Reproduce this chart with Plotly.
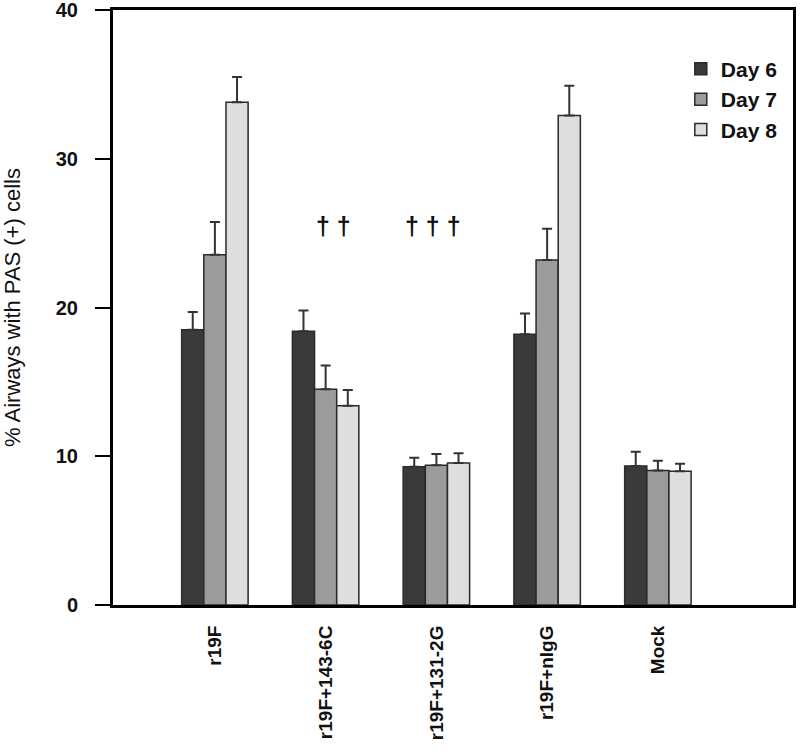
import plotly.graph_objects as go

groups = ["r19F", "r19F+143-6C", "r19F+131-2G", "r19F+nIgG", "Mock"]
days = ["Day 6", "Day 7", "Day 8"]

day6 = [18.5, 18.4, 9.3, 18.2, 9.35]
day7 = [23.55, 14.5, 9.4, 23.2, 9.05]
day8 = [33.8, 13.4, 9.55, 32.9, 9.0]

day6_err = [1.2, 1.4, 0.6, 1.4, 0.95]
day7_err = [2.2, 1.6, 0.75, 2.1, 0.65]
day8_err = [1.7, 1.05, 0.65, 2.0, 0.5]

# significance marks, placed over the r19F+143-6C and r19F+131-2G groups
dagger_text = ["\u2020 \u2020", "\u2020 \u2020 \u2020"]
dagger_x = [1.07, 1.97]
dagger_y = [25.5, 25.5]

y_ticks = [0, 10, 20, 30, 40]

colors = ["#3a3a3a", "#9b9b9b", "#dedede"]
values = [day6, day7, day8]
errors = [day6_err, day7_err, day8_err]

fig = go.Figure()
for name, vals, errs, col in zip(days, values, errors, colors):
    fig.add_trace(go.Bar(
        x=groups,
        y=vals,
        name=name,
        marker=dict(color=col, line=dict(color="#2a2a2a", width=1.5)),
        error_y=dict(type="data", array=errs, arrayminus=[0] * len(errs),
                     symmetric=False, color="#333333", thickness=2, width=5),
    ))

for txt, xx, yy in zip(dagger_text, dagger_x, dagger_y):
    fig.add_annotation(x=xx, y=yy, text=txt, showarrow=False,
                       font=dict(family="Liberation Sans", size=25, color="#111111", weight="bold"))

fig.update_layout(
    width=800, height=751,
    margin=dict(l=113, r=7, t=10, b=146),
    paper_bgcolor="white", plot_bgcolor="white",
    barmode="group", bargap=0.4, bargroupgap=0,
    font=dict(family="Liberation Sans", color="#111111"),
    legend=dict(x=0.835, y=0.935, xanchor="left", yanchor="top",
                font=dict(size=21, weight="bold"), bgcolor="rgba(0,0,0,0)",
                tracegroupgap=0, itemwidth=30),
    showlegend=True,
)
fig.update_xaxes(
    type="category",
    range=[-0.92, 5.22],
    tickangle=-90,
    tickfont=dict(size=19, weight="bold"),
    ticks="",
    ticklabelstandoff=10,
    automargin=False,
    showline=True, linecolor="black", linewidth=3, mirror=True,
    showgrid=False,
)
fig.update_yaxes(
    range=[0, 40],
    tickvals=y_ticks,
    tickfont=dict(size=20, weight="bold"),
    ticks="outside", ticklen=15, tickwidth=2, tickcolor="black",
    ticklabelstandoff=13, ticklabeloverflow="allow",
    automargin=False,
    showline=True, linecolor="black", linewidth=3, mirror=True,
    showgrid=False, zeroline=False,
    title=dict(text="% Airways with PAS (+) cells", font=dict(size=22), standoff=30),
)

# drop the default page margin so the figure sits at the top-left corner
fig.write_html("out.html", config={"displayModeBar": False},
               post_script="document.body.style.margin='0';")
